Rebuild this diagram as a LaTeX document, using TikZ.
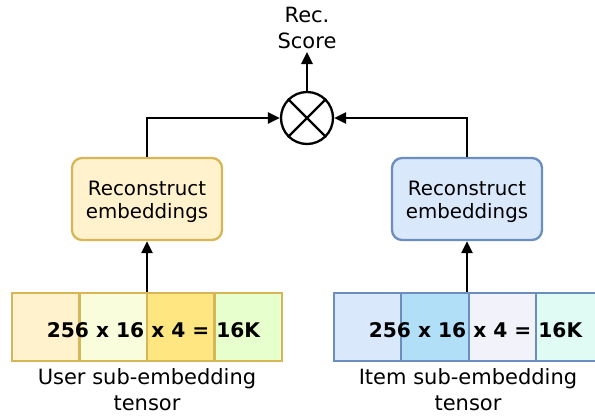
\documentclass[tikz,border=0pt]{standalone}
\usepackage{fontspec}
\setmainfont{DejaVu Sans}
\usetikzlibrary{arrows.meta}
\definecolor{yfill}{HTML}{FFF2CC}
\definecolor{yline}{HTML}{D6B656}
\definecolor{bfill}{HTML}{DAE8FC}
\definecolor{bline}{HTML}{6C8EBF}
\definecolor{ya}{HTML}{FFF2CC}
\definecolor{yb}{HTML}{FAFDDC}
\definecolor{yc}{HTML}{FFE680}
\definecolor{yd}{HTML}{E6FFCC}
\definecolor{ba}{HTML}{DAE8FC}
\definecolor{bb}{HTML}{B1DFF7}
\definecolor{bc}{HTML}{F2F2FB}
\definecolor{bd}{HTML}{E0FAF4}
\begin{document}
\begin{tikzpicture}[x=1pt,y=-1pt,
  conn/.style={line width=2.5pt,-{Triangle[length=12pt,width=11pt]}},
  recbox/.style={rounded corners=10pt,line width=2.3pt,minimum width=150pt,minimum height=82pt,inner sep=0pt},
  boxtext/.style={align=center,font=\fontsize{19.8}{23}\selectfont,inner sep=0pt},
  cell/.style={line width=2.3pt,minimum width=67.5pt,minimum height=68pt,inner sep=0pt},
  lab/.style={align=center,font=\fontsize{21}{26}\selectfont},
  big/.style={font=\bfseries\fontsize{20.2}{22}\selectfont}]
\useasboundingbox (0,0) rectangle (595,416);
% left tensor
\node[cell,fill=ya,draw=yline] (l1) at (45.75,327) {};
\node[cell,fill=yb,draw=yline] (l2) at (113.25,327) {};
\node[cell,fill=yc,draw=yline] (l3) at (180.75,327) {};
\node[cell,fill=yd,draw=yline] (l4) at (248.25,327) {};
\node[big] (lt) at (153.5,330) {256 x 16 x 4 = 16K};
\node[lab] (ll) at (147,390) {User sub-embedding\\tensor};
% right tensor
\node[cell,fill=ba,draw=bline] (r1) at (367.5,327) {};
\node[cell,fill=bb,draw=bline] (r2) at (435,327) {};
\node[cell,fill=bc,draw=bline] (r3) at (502.5,327) {};
\node[cell,fill=bd,draw=bline] (r4) at (570,327) {};
\node[big] (rt) at (475.5,330) {256 x 16 x 4 = 16K};
\node[lab] (rl) at (468,390) {Item sub-embedding\\tensor};
% boxes
\node[recbox,fill=yfill,draw=yline] (lb) at (147,199) {};
\node[boxtext] (lbt) at (147,202) {Reconstruct\\embeddings};
\node[recbox,fill=bfill,draw=bline] (rb) at (467,199) {};
\node[boxtext] (rbt) at (467,202) {Reconstruct\\embeddings};
% multiply
\node[circle,draw,line width=2.3pt,minimum size=52pt,inner sep=0pt] (m) at (307,118) {};
\draw[line width=2.3pt] (m.north west) -- (m.south east) (m.north east) -- (m.south west);
\node[lab] (rs) at (307,28) {Rec.\\Score};
\coordinate (sc) at (307,52);
% connectors
\draw[conn] (lb.south |- l1.north) -- (lb.south);
\draw[conn] (rb.south |- r1.north) -- (rb.south);
\draw[conn] (lb.north) |- (m.west);
\draw[conn] (rb.north) |- (m.east);
\draw[conn] (m.north) -- (sc);
\end{tikzpicture}
\end{document}
